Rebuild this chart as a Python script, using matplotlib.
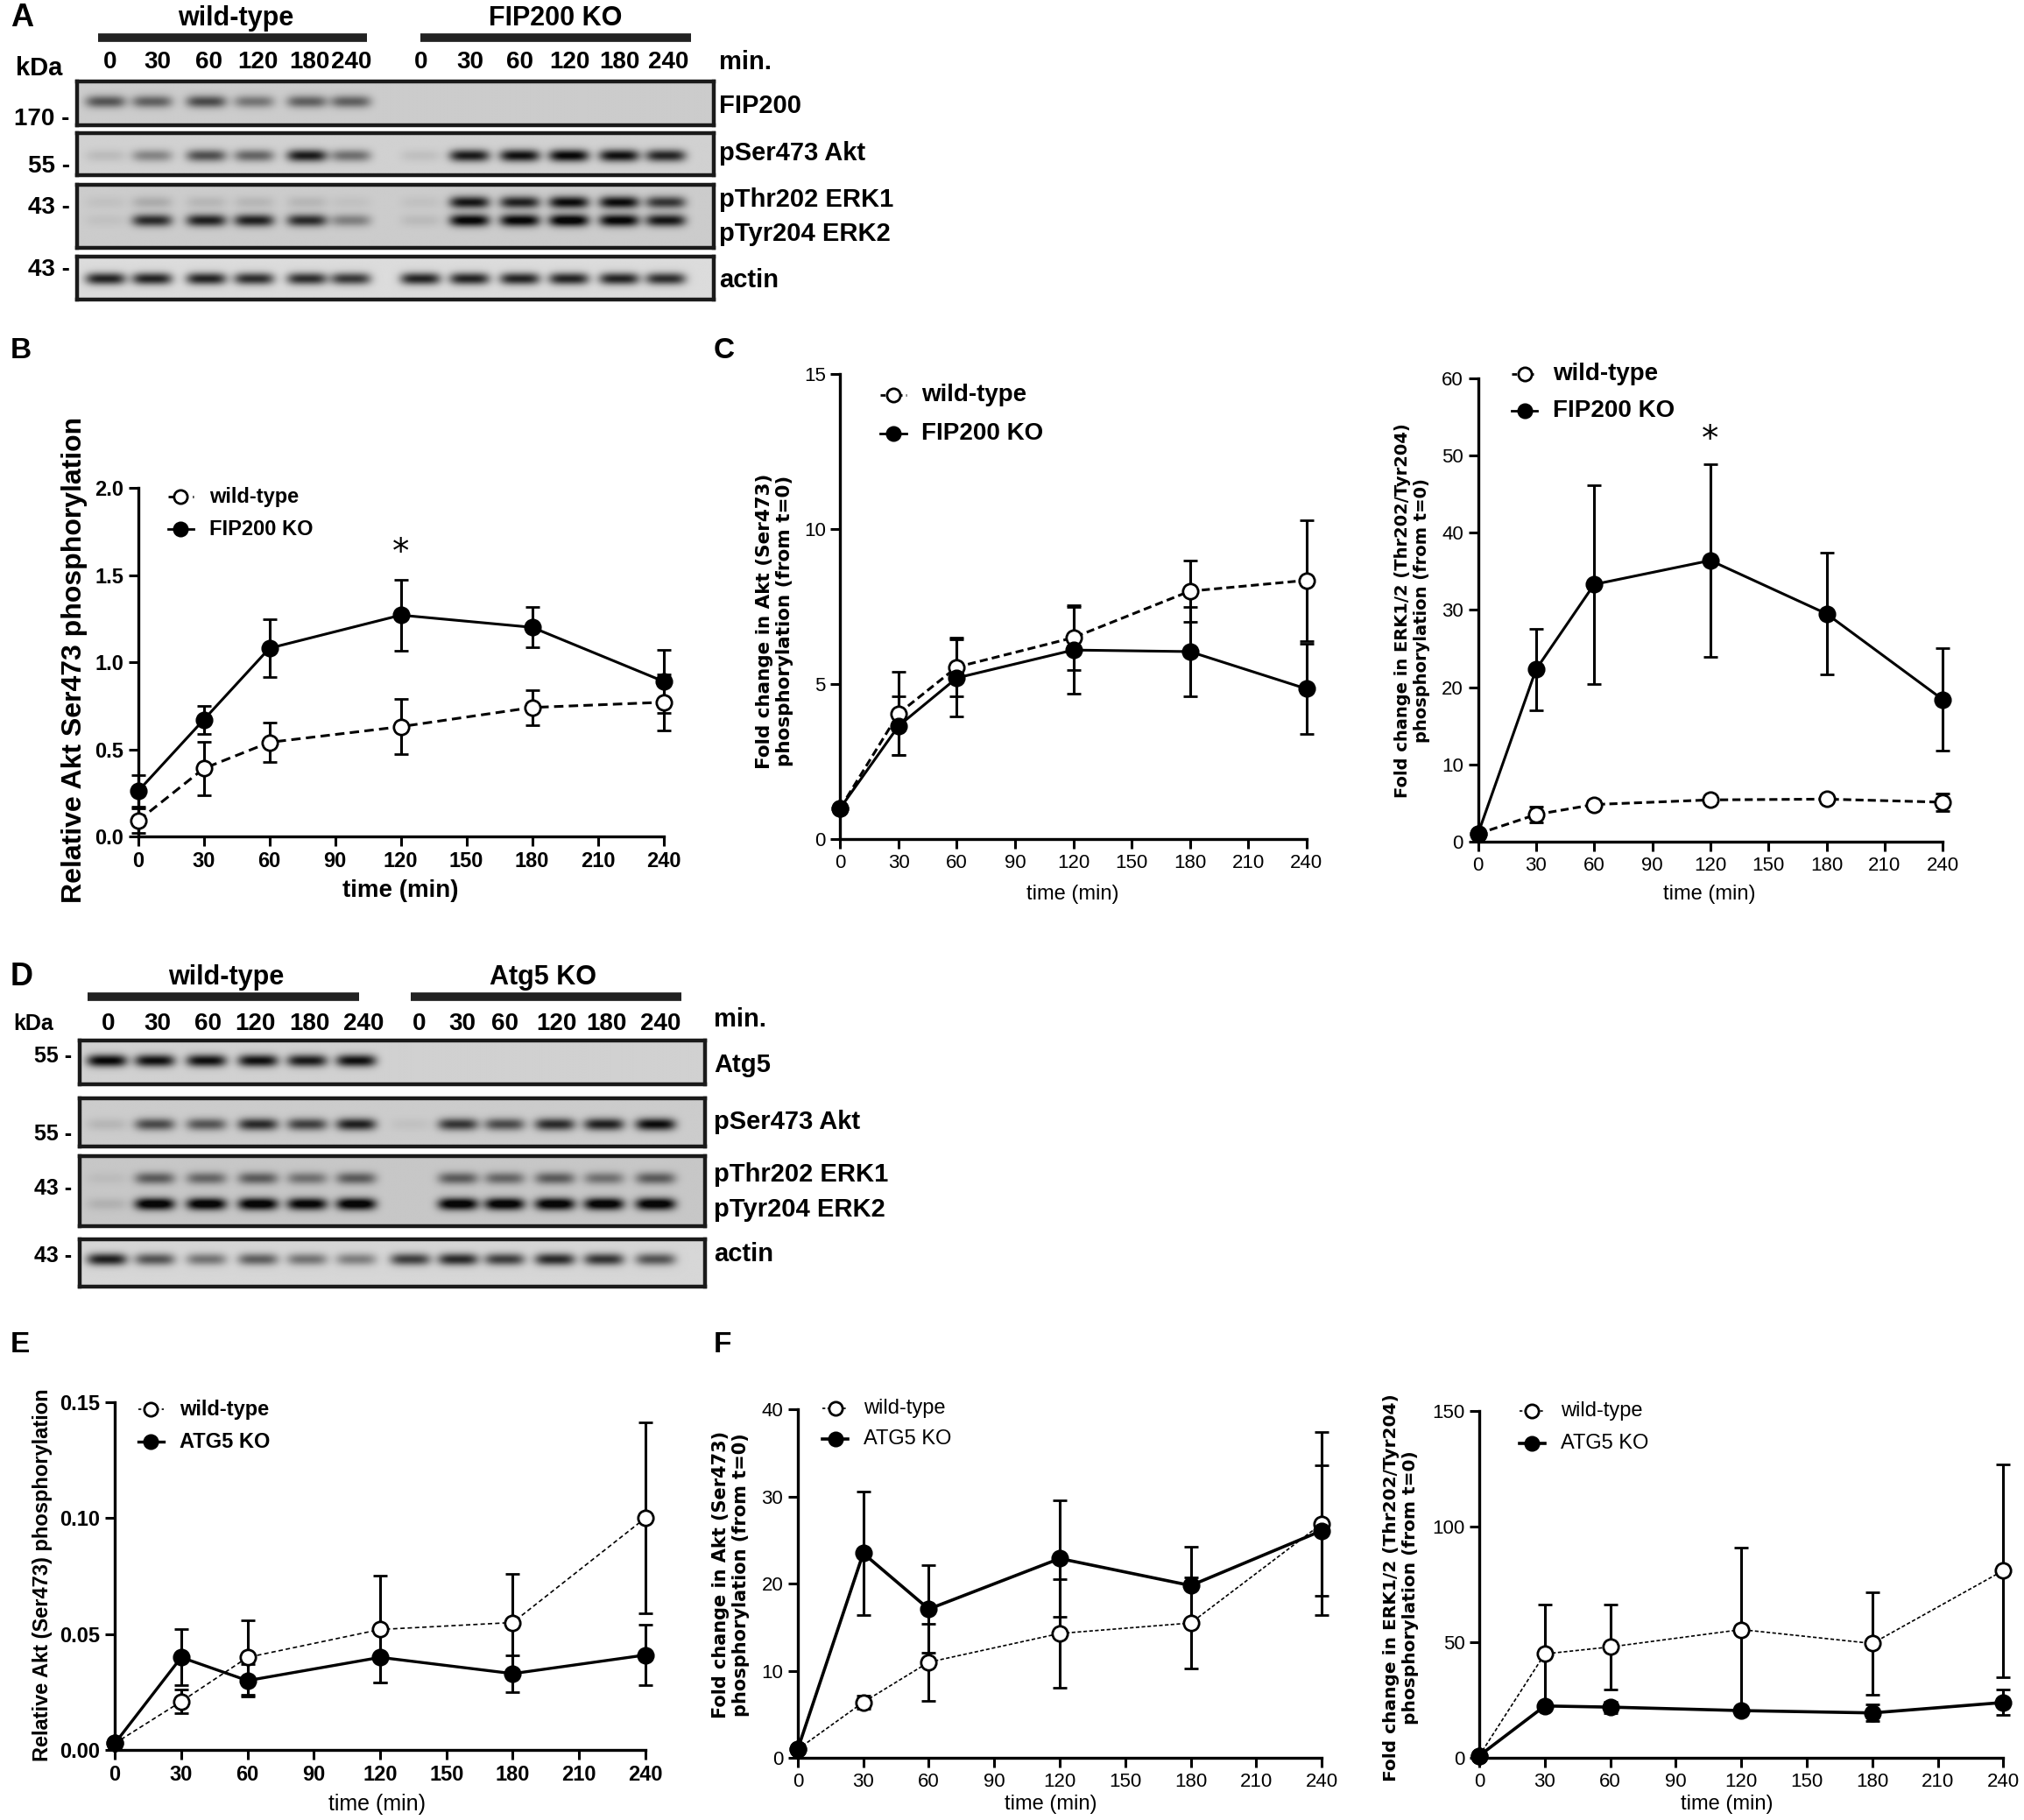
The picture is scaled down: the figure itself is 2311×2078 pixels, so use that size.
import numpy as np
import matplotlib
matplotlib.use('Agg')
import matplotlib.pyplot as plt
from matplotlib.lines import Line2D

# layout grid: reference measured at 1568 x 1410, saved at 2311 x 2078
W, H = 1568.0, 1410.0

time = [0, 30, 60, 120, 180, 240]
time_ticks = [0, 30, 60, 90, 120, 150, 180, 210, 240]
lanes = ['0', '30', '60', '120', '180', '240']

# B: relative Akt Ser473 phosphorylation, FIP200
b_wt = [0.09, 0.39, 0.54, 0.63, 0.74, 0.77]
b_wt_err = [0.07, 0.155, 0.115, 0.16, 0.10, 0.16]
b_ko = [0.26, 0.67, 1.08, 1.27, 1.20, 0.89]
b_ko_err = [0.09, 0.08, 0.165, 0.205, 0.115, 0.18]

# C left: fold change Akt
c1_wt = [1.0, 4.05, 5.55, 6.5, 8.0, 8.35]
c1_wt_err = [0.0, 1.35, 0.95, 1.05, 1.0, 1.95]
c1_ko = [1.0, 3.65, 5.2, 6.1, 6.05, 4.85]
c1_ko_err = [0.0, 0.95, 1.25, 1.4, 1.45, 1.45]

# C right: fold change ERK1/2
c2_wt = [1.0, 3.5, 4.8, 5.4, 5.5, 5.1]
c2_wt_err = [0.0, 1.0, 0.5, 0.4, 0.4, 1.1]
c2_ko = [1.0, 22.3, 33.3, 36.4, 29.5, 18.4]
c2_ko_err = [0.0, 5.3, 12.85, 12.5, 7.9, 6.6]

# E: relative Akt (Ser473), ATG5
e_wt = [0.003, 0.021, 0.040, 0.052, 0.055, 0.100]
e_wt_err = [0.0, 0.005, 0.016, 0.023, 0.021, 0.041]
e_ko = [0.003, 0.040, 0.030, 0.040, 0.033, 0.041]
e_ko_err = [0.0, 0.012, 0.007, 0.011, 0.008, 0.013]

# F left: fold change Akt, ATG5
f1_wt = [1.0, 6.4, 11.0, 14.3, 15.5, 26.9]
f1_wt_err = [0.0, 0.75, 4.4, 6.2, 5.2, 10.5]
f1_ko = [1.0, 23.5, 17.1, 22.9, 19.8, 26.1]
f1_ko_err = [0.0, 7.1, 5.0, 6.7, 4.5, 7.5]

# F right: fold change ERK1/2, ATG5
f2_wt = [1.0, 45.0, 48.0, 55.5, 49.5, 81.0]
f2_wt_err = [0.0, 21.5, 18.5, 35.5, 22.0, 46.0]
f2_ko = [1.0, 22.5, 22.0, 20.5, 19.5, 24.0]
f2_ko_err = [0.0, 1.5, 2.5, 1.5, 3.5, 5.5]

# blot band intensities (0 = none, 1 = saturated), wild-type lanes then KO lanes
a_fip200 = [0.55, 0.5, 0.6, 0.4, 0.5, 0.5, 0, 0, 0, 0, 0, 0]
a_akt = [0.1, 0.35, 0.6, 0.5, 0.85, 0.45, 0.08, 0.85, 0.9, 0.95, 0.9, 0.8]
a_erk1 = [0.05, 0.15, 0.1, 0.1, 0.1, 0.05, 0.05, 0.85, 0.8, 0.9, 0.9, 0.7]
a_erk2 = [0.05, 0.75, 0.8, 0.8, 0.75, 0.35, 0.08, 0.95, 0.95, 1.0, 0.95, 0.85]
a_actin = [0.85, 0.85, 0.85, 0.8, 0.8, 0.75, 0.85, 0.85, 0.85, 0.85, 0.85, 0.8]

d_atg5 = [0.95, 0.9, 0.9, 0.9, 0.85, 0.9, 0, 0, 0, 0, 0, 0]
d_akt = [0.1, 0.6, 0.55, 0.75, 0.65, 0.8, 0.05, 0.7, 0.6, 0.75, 0.8, 0.9]
d_erk1 = [0.05, 0.5, 0.45, 0.5, 0.4, 0.5, 0.0, 0.5, 0.45, 0.5, 0.4, 0.5]
d_erk2 = [0.1, 1.0, 1.0, 1.0, 0.95, 1.0, 0.0, 1.0, 1.0, 1.0, 1.0, 1.0]
d_actin = [0.85, 0.6, 0.45, 0.55, 0.45, 0.4, 0.7, 0.8, 0.7, 0.8, 0.75, 0.6]

BOLD = dict(family=['Liberation Sans', 'DejaVu Sans'], weight='bold')
NARROW_B = dict(family=['Liberation Sans Narrow', 'Liberation Sans', 'DejaVu Sans'], weight='bold')
NARROW = dict(family=['Liberation Sans Narrow', 'Liberation Sans', 'DejaVu Sans'])
WIDE_B = dict(family=['DejaVu Sans'], weight='bold')

fig = plt.figure(figsize=(23.11, 20.78), dpi=100)


def rect(x0, y0, x1, y1):
    return [x0 / W, 1 - y1 / H, (x1 - x0) / W, (y1 - y0) / H]


def ftext(x, y, s, **kw):
    fig.text(x / W, 1 - y / H, s, **kw)


def hbar(x0, x1, y):
    fig.add_artist(Line2D([x0 / W, x1 / W], [1 - y / H, 1 - y / H],
                          transform=fig.transFigure, color='#222222', lw=7, solid_capstyle='butt'))


def blot(box, centers, rows, bg=0.83):
    x0, y0, x1, y1 = box
    ax = fig.add_axes(rect(x0, y0, x1, y1))
    X, Y = np.meshgrid(np.linspace(x0, x1, int((x1 - x0) * 2)),
                       np.linspace(y0, y1, int((y1 - y0) * 2)))
    img = np.full(X.shape, bg)
    for yc, vals in rows:
        for xc, v in zip(centers, vals):
            img -= 0.85 * v * np.exp(-(np.abs(X - xc) / 15.5) ** 4) * np.exp(-((Y - yc) / 4.8) ** 2)
    ax.imshow(np.clip(img, 0.03, 1), cmap='gray', vmin=0, vmax=1, aspect='auto',
              extent=(x0, x1, y1, y0), interpolation='bilinear')
    ax.set_xticks([])
    ax.set_yticks([])
    for sp in ax.spines.values():
        sp.set_linewidth(3.2)
        sp.set_color('#1a1a1a')
    return ax


def legend(x, y, names, wt_ls, wt_lw, ko_lw, fs, font, dy):
    for i, name in enumerate(names):
        yy = 1 - (y + i * dy) / H
        filled = i == 1
        ln = Line2D([(x - 10) / W, (x + 10) / W], [yy, yy], transform=fig.transFigure,
                    color='k', lw=ko_lw if filled else wt_lw,
                    ls='-' if filled else wt_ls)
        mk = Line2D([x / W], [yy], transform=fig.transFigure, marker='o', ms=11,
                    mfc='k' if filled else 'white', mec='k', mew=2, ls='none')
        fig.add_artist(ln)
        fig.add_artist(mk)
        fig.text((x + 22) / W, yy, name, va='center', ha='left', fontsize=fs, **font)


def curves(box, wt, wt_err, ko, ko_err, ylim, yticks, ytl, tickfont, tfs,
           wt_ls, wt_lw, ko_lw, ms=12.5):
    ax = fig.add_axes(rect(*box))
    for sp in ['top', 'right']:
        ax.spines[sp].set_visible(False)
    for sp in ['left', 'bottom']:
        ax.spines[sp].set_linewidth(2.4)
    ax.set_xlim(0, 240)
    ax.set_ylim(*ylim)
    ax.set_xticks(time_ticks)
    ax.set_xticklabels([str(t) for t in time_ticks], fontsize=tfs, **tickfont)
    ax.set_yticks(yticks)
    ax.set_yticklabels(ytl, fontsize=tfs, **tickfont)
    ax.tick_params(direction='out', length=8, width=2.2, pad=4)
    for y, e, mfc, ls, lw in [(wt, wt_err, 'white', wt_ls, wt_lw), (ko, ko_err, 'k', '-', ko_lw)]:
        eb = ax.errorbar(time, y, yerr=e, color='k', ls=ls, lw=lw, marker='o', ms=ms,
                         mfc=mfc, mec='k', mew=2, capsize=6, capthick=2.4, elinewidth=2.2,
                         zorder=3)
        for a in eb.get_children():
            a.set_clip_on(False)
    return ax


# ---------------- A ----------------
ftext(8, 14, 'A', fontsize=26, va='center', ha='left', **NARROW_B)
ftext(183, 14, 'wild-type', fontsize=22, ha='center', va='center', **NARROW_B)
ftext(430, 14, 'FIP200 KO', fontsize=22, ha='center', va='center', **NARROW_B)
hbar(76, 284, 29)
hbar(326, 535, 29)
a_lab_x = [85, 122, 162, 200, 240, 272, 326, 364, 403, 441, 480, 518]
for xx, s in zip(a_lab_x, lanes + lanes):
    ftext(xx, 48, s, fontsize=20, ha='center', va='center', **NARROW_B)
ftext(557, 48, 'min.', fontsize=21, ha='left', va='center', **NARROW_B)
ftext(30, 53, 'kDa', fontsize=21, ha='center', va='center', **NARROW_B)
a_lane_x = [82, 118, 160, 197, 238, 272, 326, 364, 403, 441, 480, 516]
blot((60, 63, 553, 97), a_lane_x, [(79, a_fip200)], 0.80)
blot((60, 103, 553, 136), a_lane_x, [(121, a_akt)], 0.82)
blot((60, 143, 553, 192), a_lane_x, [(157, a_erk1), (171, a_erk2)], 0.80)
blot((60, 199, 553, 232), a_lane_x, [(216, a_actin)], 0.86)
for yy, s in [(92, '170 -'), (129, '55 -'), (161, '43 -'), (209, '43 -')]:
    ftext(54, yy, s, fontsize=20, ha='right', va='center', **NARROW_B)
for yy, s in [(82, 'FIP200'), (119, 'pSer473 Akt'), (155, 'pThr202 ERK1'),
              (181, 'pTyr204 ERK2'), (217, 'actin')]:
    ftext(557, yy, s, fontsize=21, ha='left', va='center', **NARROW_B)

# ---------------- B ----------------
ftext(8, 272, 'B', fontsize=24, va='center', ha='left', **BOLD)
axb = curves((107, 378, 514, 648), b_wt, b_wt_err, b_ko, b_ko_err, (0, 2.0),
             [0, 0.5, 1.0, 1.5, 2.0], ['0.0', '0.5', '1.0', '1.5', '2.0'], BOLD, 17,
             (0, (3.5, 2)), 2.2, 2.2)
axb.text(120, 1.63, '*', fontsize=28, ha='center', va='center', family='DejaVu Sans')
ftext(58, 511, 'Relative Akt Ser473 phosphorylation', rotation=90, fontsize=23,
      ha='center', va='center', **BOLD)
ftext(310, 690, 'time (min)', fontsize=20, ha='center', va='center', **BOLD)
legend(140, 385, ['wild-type', 'FIP200 KO'], (0, (3, 2)), 2, 2, 17, BOLD, 25)

# ---------------- C ----------------
ftext(553, 272, 'C', fontsize=24, va='center', ha='left', **NARROW_B)
curves((651, 290, 1012, 650), c1_wt, c1_wt_err, c1_ko, c1_ko_err, (0, 15),
       [0, 5, 10, 15], ['0', '5', '10', '15'], NARROW, 16, (0, (3, 1.6)), 2.2, 2.2)
ftext(600, 481, 'Fold change in Akt (Ser473)\nphosphorylation (from t=0)', rotation=90,
      fontsize=15.5, ha='center', va='center', multialignment='center', **WIDE_B)
ftext(831, 693, 'time (min)', fontsize=17, ha='center', va='center', **NARROW)
legend(692, 306, ['wild-type', 'FIP200 KO'], (0, (2, 1.5)), 2, 2, 20, NARROW_B, 30)

axc2 = curves((1145, 293, 1505, 652), c2_wt, c2_wt_err, c2_ko, c2_ko_err, (0, 60),
              [0, 10, 20, 30, 40, 50, 60], ['0', '10', '20', '30', '40', '50', '60'],
              NARROW, 16, (0, (3, 1.6)), 2.2, 2.2)
axc2.text(120, 52, '*', fontsize=28, ha='center', va='center', family='DejaVu Sans')
ftext(1094, 473, 'Fold change in ERK1/2 (Thr202/Tyr204)\nphosphorylation (from t=0)',
      rotation=90, fontsize=14, ha='center', va='center', multialignment='center', **WIDE_B)
ftext(1324, 693, 'time (min)', fontsize=17, ha='center', va='center', **NARROW)
legend(1181, 290, ['wild-type', 'FIP200 KO'], (0, (2, 1.5)), 2, 2, 20, NARROW_B, 28)

# ---------------- D ----------------
ftext(8, 757, 'D', fontsize=26, va='center', ha='left', **NARROW_B)
ftext(175, 757, 'wild-type', fontsize=22, ha='center', va='center', **NARROW_B)
ftext(421, 757, 'Atg5 KO', fontsize=22, ha='center', va='center', **NARROW_B)
hbar(68, 278, 772)
hbar(318, 528, 772)
d_lab_x = [84, 122, 161, 198, 240, 282, 325, 358, 391, 431, 470, 512]
for xx, s in zip(d_lab_x, lanes + lanes):
    ftext(xx, 793, s, fontsize=20, ha='center', va='center', **NARROW_B)
ftext(553, 790, 'min.', fontsize=21, ha='left', va='center', **NARROW_B)
ftext(26, 793, 'kDa', fontsize=18, ha='center', va='center', **NARROW_B)
d_lane_x = [83, 120, 160, 200, 238, 276, 318, 355, 391, 430, 468, 508]
blot((62, 806, 546, 840), d_lane_x, [(822, d_atg5)], 0.82)
blot((62, 851, 546, 888), d_lane_x, [(871, d_akt)], 0.80)
blot((62, 896, 546, 950), d_lane_x, [(913, d_erk1), (933, d_erk2)], 0.78)
blot((62, 960, 546, 997), d_lane_x, [(976, d_actin)], 0.84)
for yy, s in [(818, '55 -'), (879, '55 -'), (921, '43 -'), (973, '43 -')]:
    ftext(56, yy, s, fontsize=18, ha='right', va='center', **NARROW_B)
for yy, s in [(825, 'Atg5'), (869, 'pSer473 Akt'), (910, 'pThr202 ERK1'),
              (937, 'pTyr204 ERK2'), (972, 'actin')]:
    ftext(553, yy, s, fontsize=21, ha='left', va='center', **NARROW_B)

# ---------------- E ----------------
ftext(8, 1042, 'E', fontsize=24, va='center', ha='left', **BOLD)
curves((89, 1086, 500, 1356), e_wt, e_wt_err, e_ko, e_ko_err, (0, 0.15),
       [0, 0.05, 0.10, 0.15], ['0.00', '0.05', '0.10', '0.15'], NARROW_B, 17,
       (0, (3, 2)), 1.2, 2.4)
ftext(33, 1220, 'Relative Akt (Ser473) phosphorylation', rotation=90, fontsize=17,
      ha='center', va='center', **BOLD)
ftext(292, 1398, 'time (min)', fontsize=18, ha='center', va='center', **NARROW)
legend(117, 1092, ['wild-type', 'ATG5 KO'], (0, (2, 2)), 1.2, 2.4, 17, BOLD, 25)

# ---------------- F ----------------
ftext(553, 1042, 'F', fontsize=24, va='center', ha='left', **NARROW_B)
curves((618, 1092, 1024, 1362), f1_wt, f1_wt_err, f1_ko, f1_ko_err, (0, 40),
       [0, 10, 20, 30, 40], ['0', '10', '20', '30', '40'], NARROW, 16,
       (0, (2.5, 1.5)), 1.2, 2.6)
ftext(566, 1220, 'Fold change in Akt (Ser473)\nphosphorylation (from t=0)', rotation=90,
      fontsize=15, ha='center', va='center', multialignment='center', **WIDE_B)
ftext(814, 1398, 'time (min)', fontsize=17, ha='center', va='center', **NARROW)
legend(647, 1091, ['wild-type', 'ATG5 KO'], (0, (2, 1.5)), 1.2, 2.6, 17, NARROW, 24)

curves((1146, 1093, 1552, 1362), f2_wt, f2_wt_err, f2_ko, f2_ko_err, (0, 150),
       [0, 50, 100, 150], ['0', '50', '100', '150'], NARROW, 16,
       (0, (2.5, 1.5)), 1.2, 2.6)
ftext(1085, 1230, 'Fold change in ERK1/2 (Thr202/Tyr204)\nphosphorylation (from t=0)',
      rotation=90, fontsize=14.5, ha='center', va='center', multialignment='center', **WIDE_B)
ftext(1338, 1398, 'time (min)', fontsize=17, ha='center', va='center', **NARROW)
legend(1187, 1093, ['wild-type', 'ATG5 KO'], (0, (2, 1.5)), 1.2, 2.6, 17, NARROW, 25)

fig.savefig('out.png', dpi=100, facecolor='white')
